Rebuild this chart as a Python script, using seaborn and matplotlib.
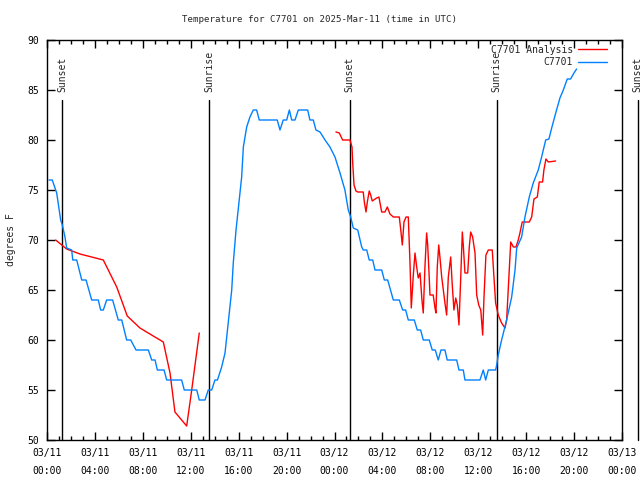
import numpy as np
import pandas as pd
import matplotlib
matplotlib.use("Agg")
import matplotlib.pyplot as plt
import matplotlib.dates as mdates
import seaborn as sns
from matplotlib.lines import Line2D

# ---- data (hours since 2025-03-11 00:00 UTC) ----
obs_hours = [0.17, 0.44, 0.81, 1.14, 1.28, 1.5, 1.64, 2.06, 2.15, 2.48, 2.90, 3.26, 3.73, 4.28, 4.48, 4.70,
             4.98, 5.48, 5.95, 6.24, 6.65, 6.99, 7.43, 8.46, 8.74, 9.02, 9.21, 9.77, 9.99, 11.24, 11.46,
             12.50, 12.71, 13.19, 13.46, 13.75, 14.02, 14.23, 14.58, 14.86, 15.13, 15.42, 15.55, 15.78,
             16.05, 16.25, 16.39, 16.67, 16.94, 17.22, 17.50, 17.72, 19.22, 19.45, 19.72, 20.01, 20.23,
             20.43, 20.70, 20.98, 21.76, 21.95, 22.23, 22.45, 22.79, 23.21, 23.62, 24.04, 24.46, 24.87,
             25.15, 25.35, 25.57, 25.94, 26.27, 26.40, 26.69, 26.90, 27.19, 27.38, 27.94, 28.16, 28.44,
             28.91, 29.41, 29.69, 29.94, 30.16, 30.66, 30.91, 31.19, 31.41, 31.91, 32.16, 32.41, 32.66,
             32.89, 33.22, 33.41, 34.20, 34.39, 34.75, 34.89, 36.14, 36.42, 36.62, 36.84, 37.45, 37.54,
             37.67, 37.95, 38.37, 38.79, 39.07, 39.21, 39.62, 39.90, 40.26, 40.59, 41.01, 41.29, 41.63,
             41.90, 42.13, 42.49, 42.82, 43.10, 43.43, 43.71, 43.99, 44.21]
obs_temp = [76, 76, 74.7, 72, 71.5, 70.3, 69.2, 69, 68, 68, 66, 66, 64, 64, 63, 63,
            64, 64, 62, 62, 60, 60, 59, 59, 58, 58, 57, 57, 56, 56, 55,
            55, 54, 54, 55, 55, 56, 56, 57.3, 58.7, 61.7, 65, 67.7, 71,
            74, 76.3, 79.3, 81.3, 82.3, 83, 83, 82, 82, 81, 82, 82, 83,
            82, 82, 83, 83, 82, 82, 81, 80.8, 80, 79.3, 78.3, 76.7, 75,
            73, 72.3, 71.2, 71, 69.3, 69, 69, 68, 68, 67, 67, 66, 66,
            64, 64, 63, 63, 62, 62, 61, 61, 60, 60, 59, 59, 58,
            59, 59, 58, 58, 57, 57, 56, 56, 57, 56, 57, 57, 57.5,
            58.5, 60, 62, 64.3, 67, 69.2, 70.3, 72.3, 74.3, 75.7, 77, 78.3, 80,
            80.1, 81.2, 82.8, 84.2, 85, 86.1, 86.1, 86.7, 87.1]

ana1_hours = [0.73, 1.23, 1.64, 2.75, 3.73, 4.70, 5.82, 6.70, 7.76, 8.87, 9.71, 10.27, 10.68, 11.66,
              12.08, 12.71]
ana1_temp = [70.0, 69.5, 69.1, 68.6, 68.3, 68.0, 65.3, 62.4, 61.2, 60.4, 59.8, 56.7, 52.8, 51.4,
             55, 60.7]

ana2_hours = [24.12, 24.40, 24.68, 25.29, 25.46, 25.52, 25.63, 25.79, 25.94, 26.40, 26.49, 26.63, 26.74,
              26.90, 27.02, 27.15, 27.52, 27.71, 27.80, 27.94, 28.21, 28.41, 28.63, 28.91, 29.41, 29.55,
              29.66, 29.80, 29.97, 30.16, 30.30, 30.41, 30.58, 30.72, 30.86, 30.99, 31.14, 31.30, 31.41,
              31.55, 31.69, 31.78, 31.89, 31.97, 32.24, 32.39, 32.47, 32.58, 32.70, 32.80, 32.95, 33.22,
              33.36, 33.50, 33.70, 33.83, 33.97, 34.12, 34.25, 34.39, 34.53, 34.67, 34.75, 34.89, 35.12,
              35.25, 35.37, 35.53, 35.73, 35.87, 36.04, 36.21, 36.37, 36.48, 36.64, 36.84, 37.17, 37.31,
              37.45, 37.67, 37.95, 38.23, 38.37, 38.51, 38.71, 38.93, 39.15, 39.34, 39.48, 39.67, 40.26,
              40.46, 40.65, 40.93, 41.09, 41.37, 41.48, 41.65, 41.85, 42.46]
ana2_temp = [80.8, 80.7, 80, 80, 79.3, 77.7, 75.5, 74.9, 74.8, 74.8, 73.8, 72.8, 73.8,
             74.9, 74.5, 73.9, 74.2, 74.3, 73.7, 72.8, 72.8, 73.3, 72.6, 72.3, 72.3, 70.8,
             69.5, 71.8, 72.3, 72.3, 67.8, 63.2, 66.5, 68.7, 67.3, 66.2, 66.7, 64, 62.7,
             67.3, 70.7, 69.5, 66.7, 64.5, 64.5, 63.2, 62.7, 67.3, 69.5, 68.3, 66.3, 63.7,
             62.5, 66.3, 68.3, 65.5, 63, 64.2, 63.5, 61.5, 66, 70.8, 69.5, 66.7, 66.7,
             69.3, 70.8, 70.3, 68.7, 64.5, 63.5, 63, 60.5, 64.3, 68.5, 69, 69, 66.3,
             63.7, 62.5, 61.7, 61.2, 62, 65.2, 69.8, 69.3, 69.3, 70, 70.7, 71.8, 71.8,
             72.3, 74.1, 74.3, 75.8, 75.8, 77, 78.1, 77.8, 77.9]

sun_hours = [1.25, 13.55, 25.28, 37.55, 49.3]
sun_labels = ["Sunset", "Sunrise", "Sunset", "Sunrise", "Sunset"]

title = "Temperature for C7701 on 2025-Mar-11 (time in UTC)"
series_names = ["C7701 Analysis", "C7701"]
colors = ["#ff0000", "#0080ff"]

# ---- build frames ----
base = pd.Timestamp("2025-03-11 00:00")
def to_time(hours):
    return [base + pd.Timedelta(hours=h) for h in hours]

obs_df = pd.DataFrame({"time": to_time(obs_hours), "temp": obs_temp})
ana_df = pd.DataFrame({
    "time": to_time(ana1_hours) + to_time(ana2_hours),
    "temp": ana1_temp + ana2_temp,
    "seg": [0] * len(ana1_hours) + [1] * len(ana2_hours),
})

sns.set_style("ticks")
plt.rcParams["font.family"] = ["DejaVu Sans Mono"]
plt.rcParams["font.size"] = 7

fig = plt.figure(figsize=(6.4, 4.8), dpi=100)
ax = fig.add_axes([47 / 640, 40 / 480, 575 / 640, 400 / 480])

sns.lineplot(data=ana_df, x="time", y="temp", units="seg", estimator=None,
             color=colors[0], lw=1.0, ax=ax)
sns.lineplot(data=obs_df, x="time", y="temp", color=colors[1], lw=1.0, ax=ax)

ax.set_xlim(base, base + pd.Timedelta(hours=48))
ax.set_ylim(50, 90)
ax.set_yticks(np.arange(50, 91, 5))

# sunrise/sunset markers
line_top = 84.0
for h, lab in zip(sun_hours, sun_labels):
    t = base + pd.Timedelta(hours=h)
    ax.plot([t, t], [50, line_top], color="black", lw=1.0, clip_on=False, zorder=1)
    ax.text(t, 84.8, lab, rotation=90, ha="center", va="bottom", fontsize=7,
            clip_on=False)

ax.xaxis.set_major_locator(mdates.HourLocator(byhour=range(0, 24, 4)))
ax.xaxis.set_minor_locator(mdates.HourLocator())
ax.xaxis.set_major_formatter(mdates.DateFormatter("%m/%d\n%H:%M"))

ax.tick_params(axis="both", which="both", direction="in", top=True, right=True,
               colors="black", labelsize=7, width=1)
ax.tick_params(axis="both", which="major", length=6)
ax.tick_params(axis="y", which="major", pad=6)
ax.tick_params(axis="x", which="major", pad=6)
ax.tick_params(axis="x", which="minor", length=3)
for lbl in ax.get_xticklabels():
    lbl.set_linespacing(1.9)
for s in ax.spines.values():
    s.set_visible(True)
    s.set_color("black")
    s.set_linewidth(1)

ax.set_xlabel("")
ax.set_ylabel("degrees F", fontsize=7, labelpad=8)
fig.text(0.5, 1 - 20 / 480, title, ha="center", va="center", fontsize=6.6)

handles = [Line2D([], [], color=c, lw=1.0) for c in colors]
ax.legend(handles, series_names, loc="upper right", frameon=False, markerfirst=False,
          fontsize=7, handlelength=3.0, handletextpad=0.55, labelspacing=0.25,
          borderaxespad=0.1, bbox_to_anchor=(0.983, 1.0))

fig.savefig("out.png", dpi=100)
